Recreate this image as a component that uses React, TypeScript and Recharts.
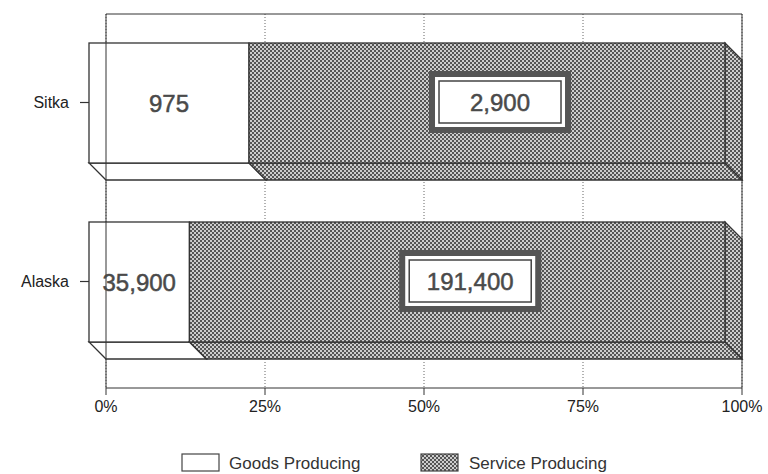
import React from 'react';
import {
    Bar,
    BarChart,
    CartesianGrid,
    XAxis,
    YAxis,
    LabelList
} from 'recharts';

const regions = ['Sitka', 'Alaska'];
const goodsProducing = [975, 35900];
const serviceProducing = [2900, 191400];
const seriesNames = ['Goods Producing', 'Service Producing'];
const percentTicks = [0, 0.25, 0.5, 0.75, 1];

const data = regions.map((name, i) => ({
    name,
    goods: goodsProducing[i],
    service: serviceProducing[i]
}));

// depth of the fake 3D extrusion
const D = 17;
const FONT = '"Liberation Sans", Arial, Helvetica, sans-serif';
const INK = '#333';

const fmt = (v: number) => v.toLocaleString('en-US');

const GoodsShape = (props: any) => {
    const { x, y, width: w, height: h } = props;
    return (
        <g>
            <polygon
                points={`${x - D},${y + h - D} ${x + w - D},${y + h - D} ${x + w},${y + h} ${x},${y + h}`}
                fill='#fff'
                stroke={INK}
                strokeWidth={1.3}
            />
            <rect x={x - D} y={y - D} width={w} height={h} fill='#fff' stroke={INK} strokeWidth={1.3} />
        </g>
    );
};

const ServiceShape = (props: any) => {
    const { x, y, width: w, height: h } = props;
    return (
        <g>
            <polygon
                points={`${x - D},${y + h - D} ${x + w - D},${y + h - D} ${x + w},${y + h} ${x},${y + h}`}
                fill='url(#dots)'
                stroke={INK}
                strokeWidth={1.3}
            />
            <polygon
                points={`${x + w - D},${y - D} ${x + w},${y} ${x + w},${y + h} ${x + w - D},${y + h - D}`}
                fill='url(#dots)'
                stroke={INK}
                strokeWidth={1.3}
            />
            <rect x={x - D} y={y - D} width={w} height={h} fill='url(#dots)' stroke={INK} strokeWidth={1.3} />
        </g>
    );
};

const GoodsLabel = (props: any) => {
    const { x, y, width: w, height: h, value } = props;
    return (
        <text
            x={x + w / 2 - D}
            y={y + h / 2 - D}
            textAnchor='middle'
            dominantBaseline='central'
            fontFamily={FONT}
            fontSize={24}
            fill='#4a4a4a'
            stroke='#4a4a4a'
            strokeWidth={0.5}
        >
            {fmt(value)}
        </text>
    );
};

const ServiceLabel = (props: any) => {
    const { x, y, width: w, height: h, value } = props;
    const cx = x + w / 2 - D + 13;
    const cy = y + h / 2 - D - 1;
    const bw = 142;
    const bh = 62;
    return (
        <g>
            <rect x={cx - bw / 2 + 3} y={cy - bh / 2 + 3} width={bw - 6} height={bh - 6} fill='#fff' stroke='#555' strokeWidth={6} />
            <rect x={cx - bw / 2 + 10} y={cy - bh / 2 + 10} width={bw - 20} height={bh - 20} fill='#fff' stroke='#444' strokeWidth={1.5} />
            <text
                x={cx}
                y={cy}
                textAnchor='middle'
                dominantBaseline='central'
                fontFamily={FONT}
                fontSize={24}
                fill='#4a4a4a'
                stroke='#4a4a4a'
                strokeWidth={0.5}
            >
                {fmt(value)}
            </text>
        </g>
    );
};

const RegionTick = (props: any) => {
    const { y, payload } = props;
    return (
        <g>
            <line x1={80} y1={y - D} x2={89} y2={y - D} stroke={INK} strokeWidth={1.2} />
            <text x={69} y={y - D} textAnchor='end' dominantBaseline='central' fontFamily={FONT} fontSize={16} fill='#222'>
                {payload.value}
            </text>
        </g>
    );
};

const Legend = () => (
    <div style={{ position: 'absolute', left: 0, top: 452, width: 768, height: 22, fontFamily: FONT, fontSize: 17, color: '#333' }}>
        <svg width={40} height={20} style={{ position: 'absolute', left: 181, top: 1 }}>
            <rect x={1} y={1} width={37} height={17} fill='#fff' stroke='#444' strokeWidth={1.2} />
        </svg>
        <span style={{ position: 'absolute', left: 229, top: 2, lineHeight: '20px' }}>{seriesNames[0]}</span>
        <svg width={40} height={20} style={{ position: 'absolute', left: 420, top: 1 }}>
            <rect x={1} y={1} width={37} height={17} fill='url(#dots)' stroke='#444' strokeWidth={1.2} />
        </svg>
        <span style={{ position: 'absolute', left: 469, top: 2, lineHeight: '20px' }}>{seriesNames[1]}</span>
    </div>
);

export default function App() {
    return (
        <div style={{ position: 'absolute', left: 0, top: 0, width: 768, height: 474, background: '#fff', overflow: 'hidden' }}>
            <svg width={0} height={0} style={{ position: 'absolute' }}>
                <defs>
                    <pattern id='dots' width={4} height={4} patternUnits='userSpaceOnUse'>
                        <rect width={4} height={4} fill='#cdcdcd' />
                        <rect width={2} height={2} fill='#555' />
                        <rect x={2} y={2} width={2} height={2} fill='#555' />
                    </pattern>
                </defs>
            </svg>
            <BarChart
                width={768}
                height={474}
                data={data}
                layout='vertical'
                stackOffset='expand'
                barSize={120}
                margin={{ top: 0, right: 6, bottom: 46, left: 0 }}
            >
                <CartesianGrid horizontal={false} strokeDasharray='1 2' stroke='#666' />
                <XAxis
                    type='number'
                    domain={[0, 1]}
                    ticks={percentTicks}
                    tickFormatter={(v: number) => `${Math.round(v * 100)}%`}
                    height={40}
                    tickSize={7}
                    tickMargin={6}
                    stroke={INK}
                    tick={{ fill: '#222', fontSize: 16, fontFamily: FONT }}
                />
                <XAxis xAxisId='top' orientation='top' type='number' domain={[0, 1]} height={14} tick={false} tickLine={false} stroke={INK} />
                <YAxis
                    type='category'
                    dataKey='name'
                    width={106}
                    padding={{ top: 16, bottom: 0 }}
                    tickLine={false}
                    stroke={INK}
                    tick={<RegionTick />}
                />
                <YAxis yAxisId='right' orientation='right' type='category' dataKey='name' width={20} tick={false} tickLine={false} stroke={INK} />
                <Bar dataKey='goods' stackId='a' fill='#fff' shape={<GoodsShape />} isAnimationActive={false}>
                    <LabelList dataKey='goods' content={<GoodsLabel />} />
                </Bar>
                <Bar dataKey='service' stackId='a' fill='#888' shape={<ServiceShape />} isAnimationActive={false}>
                    <LabelList dataKey='service' content={<ServiceLabel />} />
                </Bar>
            </BarChart>
            <Legend />
        </div>
    );
}
